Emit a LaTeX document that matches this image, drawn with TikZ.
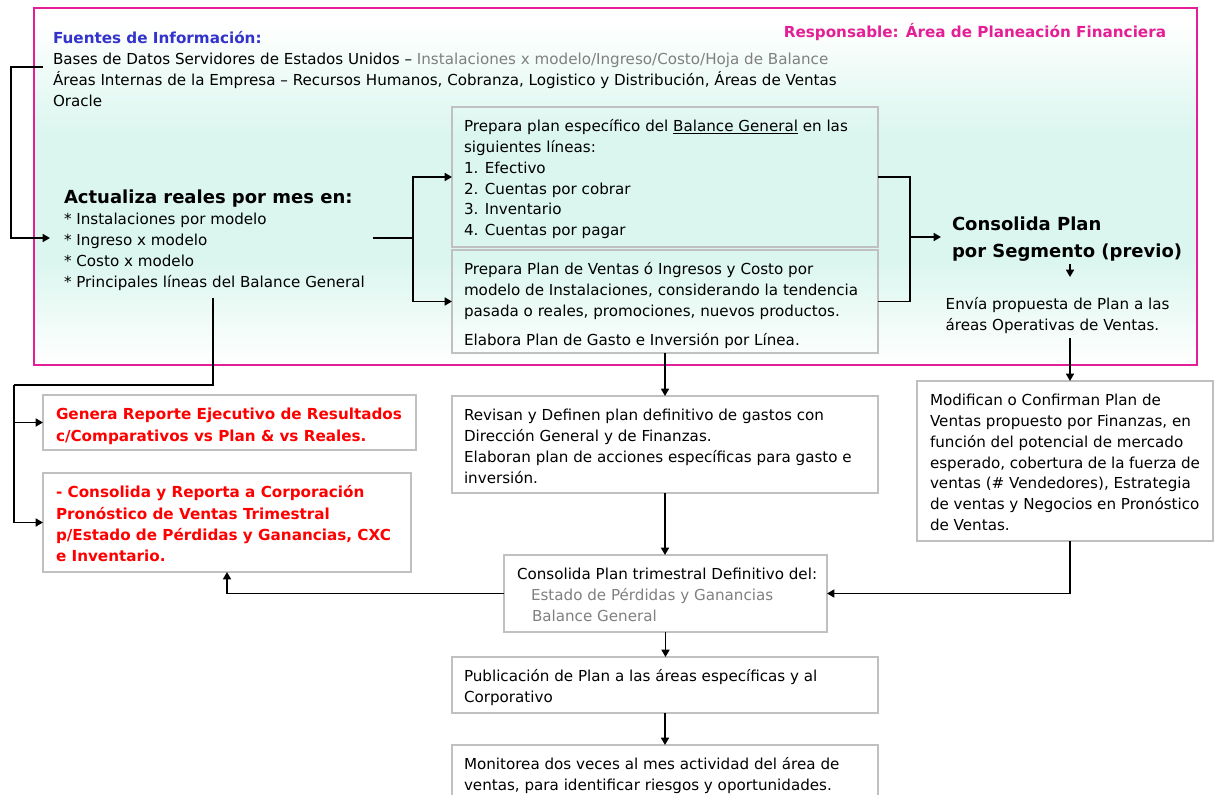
\documentclass[tikz,border=0pt]{standalone}
\usepackage{fontspec}
\setmainfont{DejaVu Sans}
\usetikzlibrary{arrows.meta}
\definecolor{mint}{RGB}{218,246,238}
\definecolor{mag}{RGB}{228,30,150}
\definecolor{boxgray}{RGB}{192,192,192}
\definecolor{fblue}{RGB}{51,51,204}
\definecolor{tgray}{RGB}{128,128,128}
\definecolor{tred}{RGB}{255,0,0}
\newdimen\px \px=0.75pt
\newcommand\nf{\fontsize{11.35}{15.6}\selectfont}
\newcommand\rf{\fontsize{11.4}{16}\selectfont\bfseries\color{tred}}
\newcommand\hf{\fontsize{13.5}{20}\selectfont\bfseries}
\newcommand\fs{\rule{0pt}{11pt}}
\newcommand\bxt[3]{\parbox[c][#1\px][t]{#2\px}{\raggedright #3}}
\pgfdeclareverticalshading{bgsh}{100bp}{color(0bp)=(white); color(25bp)=(white); color(40bp)=(mint); color(57bp)=(mint); color(73bp)=(white); color(100bp)=(white)}
\begin{document}
\begin{tikzpicture}[x=0.75pt,y=-0.75pt,
  box/.style={draw=boxgray, line width=1.3pt, anchor=north west, inner xsep=12*0.75pt, inner ysep=10*0.75pt, outer sep=0pt},
  wbox/.style={box, inner xsep=13*0.75pt},
  ln/.style={line width=1.2pt, draw=black},
  arr/.style={ln, -{Triangle[length=5.5pt,width=6pt]}},
  txt/.style={inner sep=0pt, outer sep=0pt, align=left}]
\useasboundingbox (0,0) rectangle (1214,795);
\fill[white] (0,0) rectangle (1214,795);
\shade[shading=bgsh] (34,8) rectangle (1197,365);
\draw[mag, line width=1.4pt] (34,8) rectangle (1197,365);

\node[txt, anchor=base west, font=\fontsize{11.4}{15}\selectfont\bfseries, text=fblue] (fuentes) at (53,44) {Fuentes de Información:};
\node[txt, anchor=base east, font=\fontsize{11.4}{15}\selectfont\bfseries, text=mag] (resp) at (1166,38) {Responsable: Área de Planeación Financiera};
\node[txt, anchor=north west, font=\nf] (info) at (53,50.33) {\fs Bases de Datos Servidores de Estados Unidos – \textcolor{tgray}{Instalaciones x modelo/Ingreso/Costo/Hoja de Balance}\\ Áreas Internas de la Empresa – Recursos Humanos, Cobranza, Logistico y Distribución, Áreas de Ventas\\ Oracle};

\node[txt, anchor=base west, font=\hf] (act) at (64,203.3) {Actualiza reales por mes en:};
\node[txt, anchor=north west, font=\nf] (items) at (64,210.3) {\fs * Instalaciones por modelo\\ * Ingreso x modelo\\ * Costo x modelo\\ * Principales líneas del Balance General};

\node[box] (A) at (452,107) {\bxt{120}{402}{\nf\fs Prepara plan específico del \underline{Balance General} en las\\ siguientes líneas:\\ 1. Efectivo\\ 2. Cuentas por cobrar\\ 3. Inventario\\ 4. Cuentas por pagar}};
\node[box] (B) at (452,250) {\bxt{83}{402}{\nf\fs Prepara Plan de Ventas ó Ingresos y Costo por\\ modelo de Instalaciones, considerando la tendencia\\ pasada o reales, promociones, nuevos productos.\\[6pt] Elabora Plan de Gasto e Inversión por Línea.}};

\node[txt, anchor=north west, font=\hf] (cons) at (952,213.4) {\rule{0pt}{13pt}Consolida Plan\\ por Segmento (previo)};
\node[txt, anchor=north west, font=\nf] (envia) at (945.7,294.6) {\fs Envía propuesta de Plan a las\\ áreas Operativas de Ventas.};

\node[wbox] (mod) at (917,381) {\bxt{140}{270}{\nf\fs Modifican o Confirman Plan de\\ Ventas propuesto por Finanzas, en\\ función del potencial de mercado\\ esperado, cobertura de la fuerza de\\ ventas (\# Vendedores), Estrategia\\ de ventas y Negocios en Pronóstico\\ de Ventas.}};

\node[box] (rev) at (452,396) {\bxt{77}{402}{\nf\fs Revisan y Definen plan definitivo de gastos con\\ Dirección General y de Finanzas.\\ Elaboran plan de acciones específicas para gasto e\\ inversión.}};
\node[wbox] (cons2) at (504,555) {\bxt{57}{297}{\nf\fs \mbox{Consolida Plan trimestral Definitivo del:}\\ \hspace*{14\px}\textcolor{tgray}{Estado de Pérdidas y Ganancias}\\ \hspace*{15\px}\textcolor{tgray}{Balance General}}};
\node[box] (pub) at (452,657) {\bxt{36}{402}{\nf\fs Publicación de Plan a las áreas específicas y al\\ Corporativo}};
\node[box] (mon) at (452,745) {\bxt{40}{402}{\nf\fs Monitorea dos veces al mes actividad del área de\\ ventas, para identificar riesgos y oportunidades.}};

\node[wbox] (gen) at (43,395) {\bxt{35}{347}{\rf\fs Genera Reporte Ejecutivo de Resultados\\ c/Comparativos vs Plan \& vs Reales.}};
\node[wbox] (rep) at (43,473) {\bxt{79}{342}{\rf\fs - Consolida y Reporta a Corporación\\ Pronóstico de Ventas Trimestral\\ p/Estado de Pérdidas y Ganancias, CXC\\ e Inventario.}};

% connectors
\coordinate (fsrc) at (43,67);
\coordinate (actin) at (50,238);
\draw[arr] (fsrc) -- ++(-32,0) |- (actin);
\coordinate (actout) at (373,238);
\draw[arr] (actout) -- ++(40,0) |- (A.west);
\draw[arr] (actout) -- ++(40,0) |- (B.west);
\draw[ln] (A.east) -- ++(32,0) coordinate (j) |- (B.east);
\coordinate (consin) at (941,237);
\draw[arr] (j |- consin) -- (consin);
\coordinate (c4a) at (1070,264);
\coordinate (c4b) at (1070,277);
\draw[arr] (c4a) -- (c4b);
\coordinate (envout) at (1070,338);
\draw[arr] (envout) -- (envout |- mod.north);
\draw[arr] (envout |- mod.south) |- (cons2.east);
\draw[arr] (B.south) -- (rev.north);
\draw[arr] (rev.south) -- (rev.south |- cons2.north);
\draw[arr] (cons2.west) -| (rep.south);
\draw[arr] (cons2.south) -- (cons2.south |- pub.north);
\draw[arr] (pub.south) -- (mon.north);
\coordinate (actdn) at (213,298);
\coordinate (tr) at (14,385);
\draw[ln] (actdn) |- (tr);
\draw[arr] (tr) |- (gen.west);
\draw[arr] (tr) |- (rep.west);
\end{tikzpicture}
\end{document}
